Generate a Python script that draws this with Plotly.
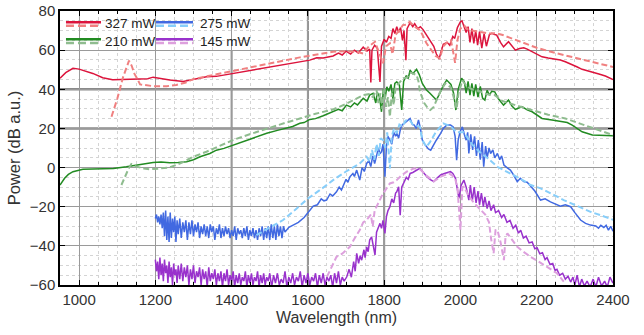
import plotly.graph_objects as go

# ---------------- data (wavelength in nm, power in dB a.u.) ----------------
wl_327 = [950, 965, 984, 1000, 1036, 1062, 1088, 1124, 1159, 1180, 1194, 1212, 1238, 1273, 1299, 1334, 1360,
          1404, 1450, 1492, 1540, 1579, 1605, 1623, 1640, 1666, 1680, 1690, 1700, 1712, 1722, 1732, 1745,
          1755, 1762, 1765, 1768, 1775, 1782, 1789, 1793, 1800, 1806, 1812, 1818, 1823, 1828, 1833, 1838,
          1843, 1848, 1852, 1857, 1860, 1868, 1875, 1880, 1888, 1895, 1902, 1910, 1915, 1921, 1930, 1937,
          1944, 1948, 1955, 1965, 1972, 1980, 1985, 1992, 2000, 2004, 2010, 2015, 2020, 2025, 2030, 2035,
          2040, 2045, 2050, 2056, 2062, 2068, 2076, 2082, 2090, 2095, 2105, 2113, 2126, 2135, 2144, 2155,
          2166, 2175, 2188, 2200, 2214, 2230, 2249, 2262, 2275, 2293, 2305, 2319, 2340, 2363, 2380, 2400]
db_327 = [45.6, 48.5, 50.7, 50.3, 48.1, 45.9, 44.9, 45.1, 45.6, 45.4, 46.2, 45.6, 44.7, 44.0, 45.1, 46.4, 46.6,
          48.1, 49.6, 51.2, 52.5, 53.8, 54.9, 56.1, 56.0, 57.0, 58.5, 57.5, 59.5, 58.0, 60.0, 58.5, 61.5,
          59.5, 60.5, 43.5, 60.0, 62.5, 61.0, 43.8, 62.0, 65.5, 64.0, 67.0, 66.0, 71.0, 68.5, 72.0, 69.0,
          71.5, 65.0, 70.0, 54.9, 71.0, 74.0, 72.0, 73.5, 71.0, 72.0, 70.5, 68.0, 66.0, 64.5, 62.0, 58.0,
          55.5, 58.5, 63.0, 64.0, 62.5, 67.0, 66.0, 71.5, 74.5, 75.0, 71.0, 69.0, 72.0, 64.0, 71.0, 63.5,
          70.0, 62.5, 69.5, 61.0, 68.5, 62.0, 68.0, 68.6, 68.0, 67.7, 64.0, 61.7, 64.3, 62.0, 60.0, 60.8,
          61.2, 60.5, 59.2, 58.0, 56.6, 56.0, 55.3, 55.0, 54.1, 52.7, 51.5, 50.2, 49.2, 47.8, 46.8, 45.0]

wl_327_sim = [1085, 1100, 1115, 1125, 1131, 1138, 1145, 1152, 1160, 1194, 1230, 1255, 1280, 1299, 1350, 1404,
              1450, 1492, 1540, 1579, 1620, 1666, 1700, 1730, 1745, 1760, 1776, 1785, 1797, 1805, 1815, 1822,
              1830, 1840, 1849, 1858, 1867, 1880, 1895, 1911, 1925, 1935, 1946, 1955, 1965, 1975, 1980, 1986,
              1992, 2000, 2010, 2020, 2030, 2043, 2060, 2075, 2095, 2111, 2150, 2200, 2250, 2305, 2350, 2400]
db_327_sim = [26.0, 35.0, 46.0, 52.0, 54.6, 52.0, 48.0, 45.6, 42.5, 41.6, 41.6, 42.2, 43.5, 45.2, 47.3, 49.3,
              51.3, 53.2, 54.8, 56.3, 57.8, 59.2, 59.5, 59.0, 58.3, 62.0, 64.3, 60.0, 53.3, 62.0, 63.5, 58.0,
              68.0, 70.0, 72.8, 73.0, 74.5, 72.0, 70.0, 63.5, 60.0, 57.0, 55.8, 62.0, 64.0, 65.0, 60.0, 53.5,
              65.0, 71.1, 72.5, 70.5, 70.0, 69.4, 69.0, 68.5, 68.6, 67.7, 64.9, 61.2, 58.5, 55.8, 53.5, 51.4]

wl_210 = [950, 955, 962, 972, 984, 1010, 1040, 1063, 1090, 1124, 1150, 1170, 1194, 1215, 1238, 1260, 1282,
          1300, 1317, 1343, 1360, 1380, 1404, 1420, 1450, 1492, 1520, 1540, 1560, 1579, 1590, 1605, 1620,
          1640, 1666, 1680, 1690, 1701, 1712, 1722, 1730, 1745, 1755, 1762, 1771, 1778, 1782, 1788, 1793,
          1798, 1803, 1807, 1812, 1818, 1823, 1828, 1833, 1840, 1846, 1851, 1858, 1863, 1868, 1875, 1885,
          1892, 1900, 1911, 1920, 1928, 1937, 1946, 1955, 1964, 1975, 1982, 1988, 1994, 2003, 2010, 2015,
          2020, 2025, 2030, 2035, 2040, 2046, 2052, 2058, 2064, 2070, 2076, 2082, 2090, 2100, 2113, 2126,
          2135, 2144, 2161, 2175, 2188, 2200, 2214, 2240, 2267, 2280, 2293, 2305, 2319, 2346, 2370, 2400]
db_210 = [-8.9, -7.5, -5.5, -3.5, -2.1, -0.9, -0.7, -0.9, -0.5, 0.4, 1.2, 2.0, 2.6, 2.8, 2.5, 2.6, 3.0,
          4.0, 5.5, 7.2, 8.9, 9.8, 11.5, 12.5, 14.5, 17.5, 19.0, 20.2, 21.0, 22.6, 23.0, 24.6, 25.0,
          26.5, 28.5, 29.8, 29.0, 31.9, 31.0, 33.0, 32.0, 35.4, 34.0, 37.0, 37.9, 33.0, 38.5, 36.0, 28.5,
          40.0, 36.0, 41.3, 39.0, 42.5, 35.0, 43.0, 43.8, 42.0, 29.4, 44.0, 47.0, 45.5, 49.8, 48.0, 50.2,
          47.5, 43.0, 39.6, 38.0, 36.5, 34.5, 38.0, 42.0, 44.7, 42.5, 38.0, 29.4, 40.0, 45.6, 44.0, 38.0,
          44.0, 37.0, 43.0, 36.5, 42.5, 36.0, 41.5, 35.5, 34.5, 39.5, 37.0, 39.0, 38.7, 35.0, 31.9, 34.5,
          31.5, 29.7, 31.1, 29.5, 28.5, 27.0, 25.1, 24.3, 23.4, 23.0, 21.7, 20.0, 18.3, 16.6, 16.5, 16.2]

wl_210_sim = [1111, 1120, 1130, 1137, 1150, 1170, 1185, 1210, 1238, 1270, 1299, 1334, 1370, 1404, 1450, 1492,
              1540, 1579, 1620, 1666, 1700, 1745, 1760, 1770, 1780, 1785, 1790, 1795, 1800, 1805, 1810, 1815,
              1820, 1825, 1830, 1838, 1850, 1860, 1870, 1885, 1890, 1894, 1905, 1914, 1921, 1930, 1945, 1960,
              1975, 1985, 1990, 1995, 2005, 2015, 2030, 2050, 2070, 2090, 2110, 2150, 2188, 2230, 2275, 2320,
              2350, 2400]
db_210_sim = [-8.9, -4.5, -0.5, 1.8, 0.5, -0.5, -0.9, -0.5, 0.1, 2.5, 5.5, 8.1, 11.0, 14.1, 17.2, 20.0,
              22.8, 25.1, 27.5, 29.7, 32.5, 37.0, 37.5, 36.0, 39.6, 33.0, 38.0, 30.0, 40.0, 31.0, 36.0, 26.0,
              38.0, 32.0, 41.0, 43.0, 45.6, 46.0, 48.5, 47.3, 44.0, 38.7, 33.0, 30.5, 29.4, 31.0, 38.0, 43.0,
              41.0, 34.0, 30.0, 38.0, 44.5, 42.0, 40.0, 39.0, 37.5, 37.0, 34.0, 31.5, 29.4, 27.0, 25.1, 22.0,
              20.0, 16.6]

wl_275 = [1200, 1203, 1206, 1209, 1212, 1215, 1218, 1221, 1224, 1227, 1230, 1233, 1236, 1239, 1242, 1245,
          1248, 1251, 1254, 1257, 1260, 1264, 1268, 1272, 1276, 1280, 1284, 1288, 1292, 1296, 1300, 1304,
          1308, 1312, 1316, 1320, 1324, 1328, 1332, 1336, 1340, 1344, 1348, 1352, 1356, 1360, 1364, 1368,
          1372, 1376, 1380, 1384, 1388, 1392, 1396, 1400, 1404, 1408, 1412, 1416, 1420, 1424, 1428, 1432,
          1436, 1440, 1444, 1448, 1452, 1456, 1460, 1464, 1468, 1472, 1476, 1480, 1484, 1488, 1492, 1496,
          1500, 1504, 1508, 1512, 1516, 1520, 1524, 1528, 1532, 1536, 1540,
          1550, 1560, 1575, 1590, 1601, 1608, 1614, 1625, 1635, 1642, 1649, 1658, 1665, 1675, 1682, 1688,
          1693, 1700, 1705, 1710, 1718, 1722, 1728, 1736, 1742, 1748, 1754, 1760, 1765, 1770, 1775, 1780,
          1785, 1789, 1793, 1797, 1802, 1806, 1810, 1815, 1820, 1825, 1830, 1833, 1838, 1843, 1848, 1855,
          1860, 1868, 1874, 1879, 1884, 1890, 1895, 1900, 1906, 1911, 1916, 1922, 1930, 1937, 1948, 1955,
          1964, 1974, 1981, 1986, 1990, 1994, 1999, 2005, 2010, 2015, 2019, 2022, 2027, 2032, 2037, 2042,
          2047, 2052, 2057, 2061, 2066, 2070, 2075, 2079, 2085, 2090, 2097, 2103, 2108, 2114, 2122, 2131,
          2140, 2149, 2157, 2166, 2175, 2184, 2195, 2210, 2222, 2236, 2250, 2262, 2275, 2289, 2300, 2315,
          2328, 2341, 2355, 2362, 2368, 2376, 2382, 2388, 2394, 2400]
db_275 = [-26, -24, -28, -25, -29, -24, -31, -23, -35, -22, -37, -25, -38, -23, -36, -26,
          -33, -25, -38, -27, -34, -26, -36, -28, -33, -27, -37, -28, -34, -27, -35, -29,
          -33, -28, -36, -30, -34, -29, -35, -30, -36, -29, -33, -30, -37, -31, -34, -29,
          -36, -31, -35, -30, -34, -31, -36, -32, -35, -30, -37, -31, -34, -32, -36, -31,
          -35, -30, -37, -32, -35, -31, -36, -32, -37, -31, -35, -30, -37, -31, -36, -30,
          -37, -29, -36, -30, -37, -29, -35, -30, -36, -30, -33,
          -30.5, -29.5, -28.0, -25.5, -22.6, -21.0, -19.7, -19.0, -16.0, -17.0, -16.6, -13.5, -14.5, -12.4, -10.0, -11.5,
          -8.9, -6.0, -7.5, -4.7, -3.0, -4.5, -1.3, -6.4, 0.0, -2.0, 2.1, 3.5, 0.5, 6.0, 2.0, 5.5,
          10.0, 7.0, 8.1, 12.0, -4.7, 11.0, 16.0, 14.1, 12.0, 18.0, 16.0, 17.5, 15.0, 20.0, 22.0, 23.0,
          24.0, 25.1, 22.0, 21.7, 20.0, 24.3, 20.0, 14.1, 12.0, 10.6, 9.5, 8.9, 12.0, 14.1, 17.5, 20.0,
          21.7, 21.7, 20.8, 16.0, 3.8, 14.0, 18.3, 20.8, 17.0, 14.0, 18.0, 7.2, 17.0, 9.0, 16.0, 6.0,
          14.0, 4.0, 13.0, 0.4, 11.0, 5.0, 10.0, 7.2, 9.0, 5.0, 7.2, 4.0, 6.0, 1.3, 0.0, -1.3,
          -4.0, -7.2, -5.5, -7.2, -7.5, -9.8, -12.0, -16.6, -16.0, -17.5, -18.5, -19.7, -19.0, -20.0, -23.0, -26.8,
          -28.5, -29.4, -29.8, -31.0, -29.5, -30.6, -29.5, -32.0, -30.0, -32.5]

wl_275_sim = [1465, 1500, 1535, 1570, 1601, 1635, 1666, 1700, 1736, 1754, 1762, 1768, 1774, 1780, 1786, 1791,
              1797, 1803, 1808, 1815, 1820, 1826, 1833, 1840, 1848, 1856, 1866, 1875, 1885, 1894, 1900, 1906,
              1911, 1920, 1935, 1955, 1975, 1990, 2009, 2030, 2050, 2070, 2097, 2130, 2160, 2184, 2210, 2240,
              2271, 2305, 2341, 2370, 2402]
db_275_sim = [-34.5, -30.5, -26.8, -21.0, -15.7, -11.0, -6.4, -2.0, 2.1, 5.5, 3.0, 9.0, 4.0, 12.0, 6.0, 15.0,
              14.1, 10.0, 18.0, -0.4, 16.0, 20.0, 17.5, 22.0, 21.0, 24.0, 24.5, 22.0, 21.5, 20.8, 14.0, 12.0,
              10.6, 13.0, 18.0, 22.6, 21.0, 18.0, 18.0, 12.0, 8.0, 5.0, 0.4, -3.0, -6.0, -8.9, -10.6, -13.5,
              -16.6, -19.5, -22.6, -24.5, -26.8]

wl_145 = [1200, 1203, 1206, 1209, 1212, 1215, 1218, 1221, 1224, 1227, 1230, 1233, 1236, 1239, 1242, 1245,
          1248, 1251, 1254, 1257, 1260, 1264, 1268, 1272, 1276, 1280, 1284, 1288, 1292, 1296, 1300, 1304,
          1308, 1312, 1316, 1320, 1324, 1328, 1332, 1336, 1340, 1344, 1348, 1352, 1356, 1360, 1364, 1368,
          1372, 1376, 1380, 1384, 1388, 1392, 1396, 1400, 1404, 1408, 1412, 1416, 1420, 1424, 1428, 1432,
          1436, 1440, 1444, 1448, 1452, 1456, 1460, 1464, 1468, 1472, 1476, 1480, 1484, 1488, 1492, 1496,
          1500, 1505, 1510, 1515, 1520, 1525, 1530, 1535, 1540, 1545, 1550, 1555, 1560, 1565, 1570, 1575,
          1580, 1585, 1590, 1595, 1600, 1605, 1610, 1615, 1620, 1625, 1630, 1635, 1640, 1645, 1650, 1655,
          1660, 1665, 1670, 1675, 1680, 1685, 1690, 1695, 1702, 1708, 1714, 1720, 1724, 1728, 1733, 1737,
          1741, 1747, 1750, 1754, 1758, 1762, 1767, 1772, 1776, 1780, 1785, 1789, 1793, 1797, 1802, 1806,
          1810, 1815, 1820, 1825, 1830, 1833, 1838, 1842, 1846, 1852, 1858, 1863, 1868, 1875, 1882, 1888,
          1894, 1900, 1906, 1912, 1920, 1930, 1938, 1948, 1958, 1966, 1974, 1980, 1987, 1996, 2002, 2009,
          2015, 2022, 2026, 2031, 2036, 2041, 2046, 2050, 2055, 2060, 2064, 2070, 2075, 2080, 2087, 2092,
          2100, 2108, 2114, 2122, 2130, 2138, 2145, 2152, 2158, 2165, 2172, 2180, 2188, 2195, 2201, 2208,
          2215, 2222, 2227, 2235, 2242, 2248, 2253, 2260, 2268, 2275, 2282, 2289, 2295, 2300, 2306, 2312,
          2318, 2325, 2332, 2340, 2348, 2355, 2362, 2370, 2378, 2385, 2392, 2400]
db_145 = [-47, -53, -48, -57, -46, -55, -49, -58, -47, -54, -50, -59, -48, -56, -51, -60,
          -49, -55, -52, -59, -50, -57, -49, -58, -51, -56, -50, -60, -52, -57, -50, -59,
          -53, -56, -51, -60, -52, -57, -53, -61, -51, -58, -54, -57, -52, -60, -54, -58,
          -53, -61, -54, -58, -52, -60, -55, -58, -53, -61, -55, -59, -54, -60, -56, -58,
          -53, -61, -55, -59, -54, -60, -56, -58, -53, -61, -55, -59, -54, -60, -56, -58,
          -54, -61, -55, -59, -54, -60, -57, -59, -53, -61, -56, -59, -54, -60, -56, -58,
          -53, -61, -55, -59, -54, -60, -56, -58, -54, -61, -55, -59, -54, -60, -56, -58,
          -55, -61, -54, -59, -53, -60, -56, -58, -55.8, -52, -56, -48, -53, -43.8, -49, -45,
          -47.3, -42, -46, -40.5, -43, -37, -35.4, -41, -44.7, -33, -30, -28.5, -31, -27, -33.6, -25,
          -22, -20, -16, -18, -13, -12.4, -9.8, -24.3, -10, -7, -5, -6, -3, -2.5, -1.5, -1,
          -0.4, -2, -3.5, -4.7, -6, -7.2, -5.5, -3.8, -3, -2.5, -2.1, -3, -5.5, -15.7, -9, -6.4,
          -10, -16.6, -9, -17, -10, -18, -12, -19, -13, -20, -15, -21, -17, -22, -19, -23,
          -22, -25.5, -24, -28, -27, -31, -29.5, -33.5, -32, -36, -35, -38.5, -38, -41.5, -41, -44,
          -43.5, -47, -46, -49.5, -49, -52.5, -52, -55, -54, -57, -55.5, -58.5, -56, -60, -55, -61,
          -57, -60.5, -58, -61, -57, -61, -56, -60.5, -58, -61, -56, -59]

wl_145_sim = [1650, 1665, 1675, 1690, 1700, 1710, 1720, 1736, 1745, 1754, 1765, 1770, 1775, 1780, 1788, 1797,
              1805, 1815, 1825, 1833, 1845, 1860, 1879, 1895, 1910, 1930, 1950, 1970, 1985, 1992, 2000, 2005,
              2009, 2020, 2035, 2052, 2065, 2075, 2080, 2087, 2092, 2097, 2105, 2114, 2118, 2123, 2135, 2149,
              2165, 2184, 2205, 2227, 2253, 2271]
db_145_sim = [-55.8, -50.0, -45.6, -44.0, -42.0, -40.5, -37.0, -31.9, -28.0, -26.8, -24.0, -30.0, -22.0, -20.0, -17.0, -13.2,
              -11.0, -8.1, -7.5, -6.4, -4.0, -2.0, -0.4, -1.0, -4.0, -7.0, -4.5, -3.0, -5.0, -9.8, -31.9, -10.0,
              -9.8, -14.0, -18.0, -21.7, -24.0, -28.0, -36.0, -43.8, -32.0, -31.9, -38.0, -47.3, -36.0, -33.6, -37.0, -40.5,
              -43.0, -45.6, -48.0, -50.7, -54.0, -58.3]

legend_labels = ["327 mW", "275 mW", "210 mW", "145 mW"]

# ---------------- styling ----------------
FONT = "Liberation Sans"
col_solid = {"327": "#DC143C", "275": "#4169E1", "210": "#228B22", "145": "#9932CC"}
col_dash = {"327": "#F08080", "275": "#87CEFA", "210": "#8FBC8F", "145": "#DDA0DD"}

series = [
    ("327", wl_327, db_327, wl_327_sim, db_327_sim),
    ("275", wl_275, db_275, wl_275_sim, db_275_sim),
    ("210", wl_210, db_210, wl_210_sim, db_210_sim),
    ("145", wl_145, db_145, wl_145_sim, db_145_sim),
]

fig = go.Figure()
for key, xs, ys, xd, yd in series:
    assert len(xs) == len(ys), key
    assert len(xd) == len(yd), key
    fig.add_trace(go.Scatter(x=xs, y=ys, mode="lines", showlegend=False,
                             line=dict(color=col_solid[key], width=1.5)))
    fig.add_trace(go.Scatter(x=xd, y=yd, mode="lines", showlegend=False,
                             line=dict(color=col_dash[key], width=2, dash="6px,3px")))

shapes = []
# emphasised grid lines (rendered thicker in the original)
for xv in [1400, 1600, 1800]:
    shapes.append(dict(type="line", xref="x", yref="paper", x0=xv, x1=xv, y0=0, y1=1,
                       line=dict(color="#8a8a8a", width=2), layer="below"))
for yv in [20, 40]:
    shapes.append(dict(type="line", xref="paper", yref="y", x0=0, x1=1, y0=yv, y1=yv,
                       line=dict(color="#8a8a8a", width=2.5), layer="below"))
# legend box
shapes.append(dict(type="rect", xref="paper", yref="paper", x0=0.002, x1=0.34, y0=0.858, y1=0.997,
                   fillcolor="white", line=dict(width=0), layer="below"))

annotations = []
leg_cols = [(0.0108, 0.0741, 0.0770), (0.1736, 0.2405, 0.2500)]
leg_rows = [(0.9588, 0.9464, 0.9526), (0.8967, 0.8832, 0.8905)]
leg_keys = [["327", "210"], ["275", "145"]]
leg_text = {"327": legend_labels[0], "275": legend_labels[1], "210": legend_labels[2], "145": legend_labels[3]}
for ci, (lx0, lx1, tx) in enumerate(leg_cols):
    for ri, (ys_, yd_, ty) in enumerate(leg_rows):
        k = leg_keys[ci][ri]
        shapes.append(dict(type="line", xref="paper", yref="paper", x0=lx0, x1=lx1, y0=ys_, y1=ys_,
                           line=dict(color=col_solid[k], width=2.5), layer="above"))
        shapes.append(dict(type="line", xref="paper", yref="paper", x0=lx0, x1=lx1, y0=yd_, y1=yd_,
                           line=dict(color=col_dash[k], width=2.5, dash="8px,4px"), layer="above"))
        annotations.append(dict(xref="paper", yref="paper", x=tx, y=ty, text=leg_text[k], showarrow=False,
                                xanchor="left", yanchor="middle",
                                font=dict(family=FONT, size=13.5, color="#222")))

fig.update_layout(
    width=644, height=335,
    margin=dict(l=60, r=31, t=11, b=50),
    paper_bgcolor="white", plot_bgcolor="white",
    font=dict(family=FONT, size=15, color="#333"),
    shapes=shapes, annotations=annotations,
    showlegend=False,
)
fig.update_xaxes(
    range=[950, 2400], tick0=1000, dtick=200, automargin=False,
    ticks="inside", ticklen=5, tickcolor="black",
    showline=True, linecolor="black", linewidth=1.5, mirror="allticks",
    showgrid=True, gridcolor="#9a9a9a", gridwidth=1, zeroline=False,
    minor=dict(dtick=50, ticks="inside", ticklen=3, tickcolor="black",
               showgrid=True, gridcolor="#d4d4d4", griddash="dot", gridwidth=1),
    title=dict(text="Wavelength (nm)", standoff=5, font=dict(size=16, family=FONT, color="#333")),
    tickfont=dict(size=15, family=FONT, color="#333"),
)
fig.update_yaxes(
    range=[-60, 80], tick0=0, dtick=20, automargin=False,
    ticks="inside", ticklen=5, tickcolor="black",
    showline=True, linecolor="black", linewidth=1.5, mirror="allticks",
    showgrid=True, gridcolor="#9a9a9a", gridwidth=1, zeroline=False,
    minor=dict(dtick=5, showgrid=True, gridcolor="#d4d4d4", griddash="dot", gridwidth=1),
    title=dict(text="Power (dB a.u.)", standoff=5, font=dict(size=16.5, family=FONT, color="#333")),
    tickfont=dict(size=15, family=FONT, color="#333"),
)

fig.write_html("out.html", config={"displayModeBar": False},
               post_script="document.body.style.margin='0';")
